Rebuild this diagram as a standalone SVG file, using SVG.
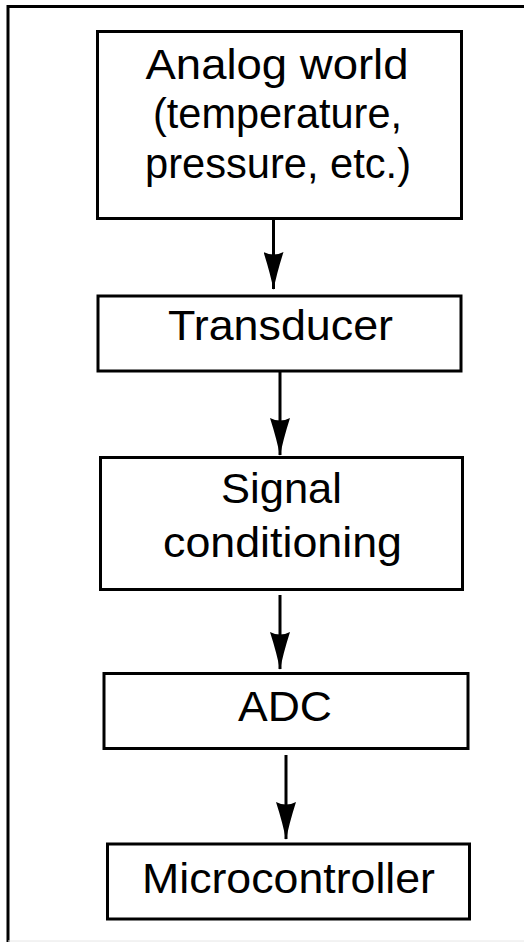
<svg xmlns="http://www.w3.org/2000/svg" width="524" height="942" viewBox="0 0 524 942">
  <style>
    .box { fill: #ffffff; stroke: #000000; stroke-width: 3; }
    .lbl { font-family: "Liberation Sans", Arial, sans-serif; font-size: 42px; fill: #000000; text-anchor: middle; }
    .conn { stroke: #000000; stroke-width: 3; fill: none; marker-end: url(#arrow); }
    .frame { stroke: #000000; stroke-width: 3; fill: none; }
  </style>
  <defs>
    <marker id="arrow" markerUnits="userSpaceOnUse" viewBox="0 0 38 20" refX="37" refY="10" markerWidth="38" markerHeight="20" orient="auto">
      <path d="M0,0 Q22,7 38,10 Q22,13 0,20 Q5,10 0,0 Z" fill="#000000"/>
    </marker>
  </defs>
  <rect x="0" y="0" width="524" height="942" fill="#ffffff"/>
  <g id="frame">
    <path class="frame" d="M8,942 L8,6.5 L524,6.5"/>
    <line x1="8" y1="941" x2="524" y2="941" stroke="#e6e6e6" stroke-width="1"/>
  </g>
  <g id="analog-world">
    <rect class="box" x="97.5" y="31.5" width="364" height="187"/>
    <text class="lbl" x="277" y="79" textLength="263" lengthAdjust="spacingAndGlyphs">Analog world</text>
    <text class="lbl" x="277.5" y="128" textLength="249" lengthAdjust="spacingAndGlyphs">(temperature,</text>
    <text class="lbl" x="278" y="178" textLength="266" lengthAdjust="spacingAndGlyphs">pressure, etc.)</text>
  </g>
  <g id="transducer">
    <rect class="box" x="98" y="296" width="363" height="75"/>
    <text class="lbl" x="280.5" y="340" textLength="225" lengthAdjust="spacingAndGlyphs">Transducer</text>
  </g>
  <g id="signal-conditioning">
    <rect class="box" x="100.5" y="457.5" width="362" height="132"/>
    <text class="lbl" x="281.5" y="503" textLength="121" lengthAdjust="spacingAndGlyphs">Signal</text>
    <text class="lbl" x="282.5" y="557" textLength="239" lengthAdjust="spacingAndGlyphs">conditioning</text>
  </g>
  <g id="adc">
    <rect class="box" x="104" y="673.5" width="364" height="75"/>
    <text class="lbl" x="285" y="721" textLength="94" lengthAdjust="spacingAndGlyphs">ADC</text>
  </g>
  <g id="microcontroller">
    <rect class="box" x="107.5" y="844" width="362" height="75"/>
    <text class="lbl" x="288.5" y="893" textLength="293" lengthAdjust="spacingAndGlyphs">Microcontroller</text>
  </g>
  <g id="connectors">
    <line class="conn" x1="273.5" y1="219" x2="273.5" y2="289"/>
    <line class="conn" x1="280" y1="371" x2="280" y2="455"/>
    <line class="conn" x1="280" y1="595" x2="280" y2="669"/>
    <line class="conn" x1="286" y1="755" x2="286" y2="839"/>
  </g>
</svg>
